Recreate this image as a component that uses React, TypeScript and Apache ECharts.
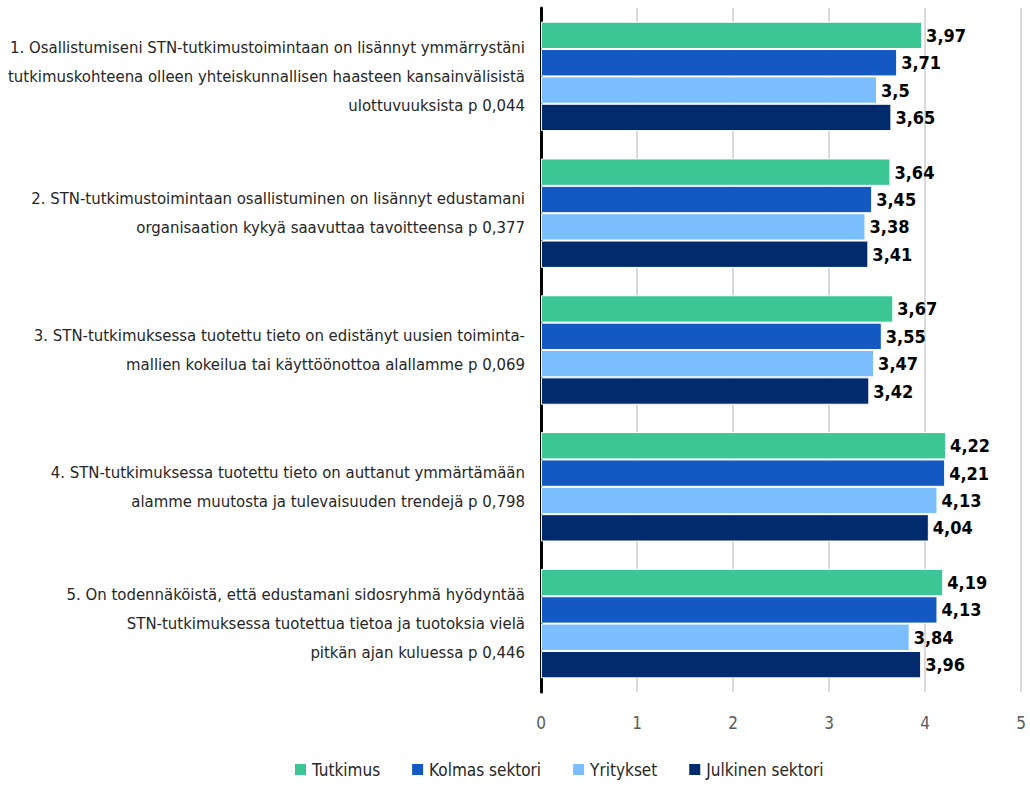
import React, { useEffect, useRef } from "react";
import * as echarts from "echarts";

const categories = [
  "1. Osallistumiseni STN-tutkimustoimintaan on lisännyt ymmärrystäni\ntutkimuskohteena olleen yhteiskunnallisen haasteen kansainvälisistä\nulottuvuuksista p 0,044",
  "2. STN-tutkimustoimintaan osallistuminen on lisännyt edustamani\norganisaation kykyä saavuttaa tavoitteensa p 0,377",
  "3. STN-tutkimuksessa tuotettu tieto on edistänyt uusien toiminta-\nmallien kokeilua tai käyttöönottoa alallamme p 0,069",
  "4. STN-tutkimuksessa tuotettu tieto on auttanut ymmärtämään\nalamme muutosta ja tulevaisuuden trendejä p 0,798",
  "5. On todennäköistä, että edustamani sidosryhmä hyödyntää\nSTN-tutkimuksessa tuotettua tietoa ja tuotoksia vielä\npitkän ajan kuluessa p 0,446",
];

const seriesNames = ["Tutkimus", "Kolmas sektori", "Yritykset", "Julkinen sektori"];
const tutkimus = [3.97, 3.64, 3.67, 4.22, 4.19];
const kolmasSektori = [3.71, 3.45, 3.55, 4.21, 4.13];
const yritykset = [3.5, 3.38, 3.47, 4.13, 3.84];
const julkinenSektori = [3.65, 3.41, 3.42, 4.04, 3.96];
const xTicks = [0, 1, 2, 3, 4, 5];

const colors = ["#3DC695", "#1459C2", "#7BBEFE", "#012B6D"];
const FONT = "'Liberation Sans Narrow', 'DejaVu Sans Condensed', 'Roboto', sans-serif";

export default function App() {
  const ref = useRef<HTMLDivElement>(null);
  useEffect(() => {
    if (!ref.current) return;
    const chart = echarts.init(ref.current, undefined, { renderer: "svg" });
    const values = [tutkimus, kolmasSektori, yritykset, julkinenSektori];
    chart.setOption({
      animation: false,
      textStyle: { fontFamily: FONT },
      grid: {
        left: 541,
        right: 9,
        top: 8,
        height: 684,
        containLabel: false,
        outerBoundsMode: "none",
      },
      legend: {
        bottom: 4,
        left: 288,
        itemWidth: 13,
        itemHeight: 13,
        itemGap: 30,
        icon: "rect",
        textStyle: { fontFamily: FONT, fontSize: 17, color: "#262626" },
        data: seriesNames,
      },
      xAxis: {
        type: "value",
        min: xTicks[0],
        max: xTicks[xTicks.length - 1],
        interval: 1,
        axisLine: { show: false },
        axisTick: { show: false },
        splitLine: { show: true, lineStyle: { color: "#d9d9d9", width: 2 } },
        axisLabel: { fontFamily: FONT, fontSize: 17, color: "#595959", margin: 22 },
      },
      yAxis: {
        type: "category",
        inverse: true,
        data: categories,
        axisLine: { show: true, lineStyle: { color: "#000000", width: 3 } },
        axisTick: { show: false },
        axisLabel: {
          fontFamily: FONT,
          fontSize: 16.6,
          color: "#262626",
          align: "right",
          margin: 16,
          lineHeight: 29,
        },
      },
      series: seriesNames.map((name, i) => ({
        name,
        type: "bar",
        data: values[i],
        barGap: "0%",
        barCategoryGap: "20%",
        itemStyle: { color: colors[i], borderColor: "#ffffff", borderWidth: 1 },
        label: {
          show: true,
          position: "right",
          distance: 4,
          fontFamily: FONT,
          fontSize: 18,
          fontWeight: "bold",
          color: "#000000",
          formatter: (p: any) => String(p.value).replace(".", ","),
        },
      })),
    });
    return () => chart.dispose();
  }, []);
  return (
    <div
      ref={ref}
      style={{ position: "fixed", left: 0, top: 0, width: 1030, height: 787, background: "#ffffff" }}
    />
  );
}
